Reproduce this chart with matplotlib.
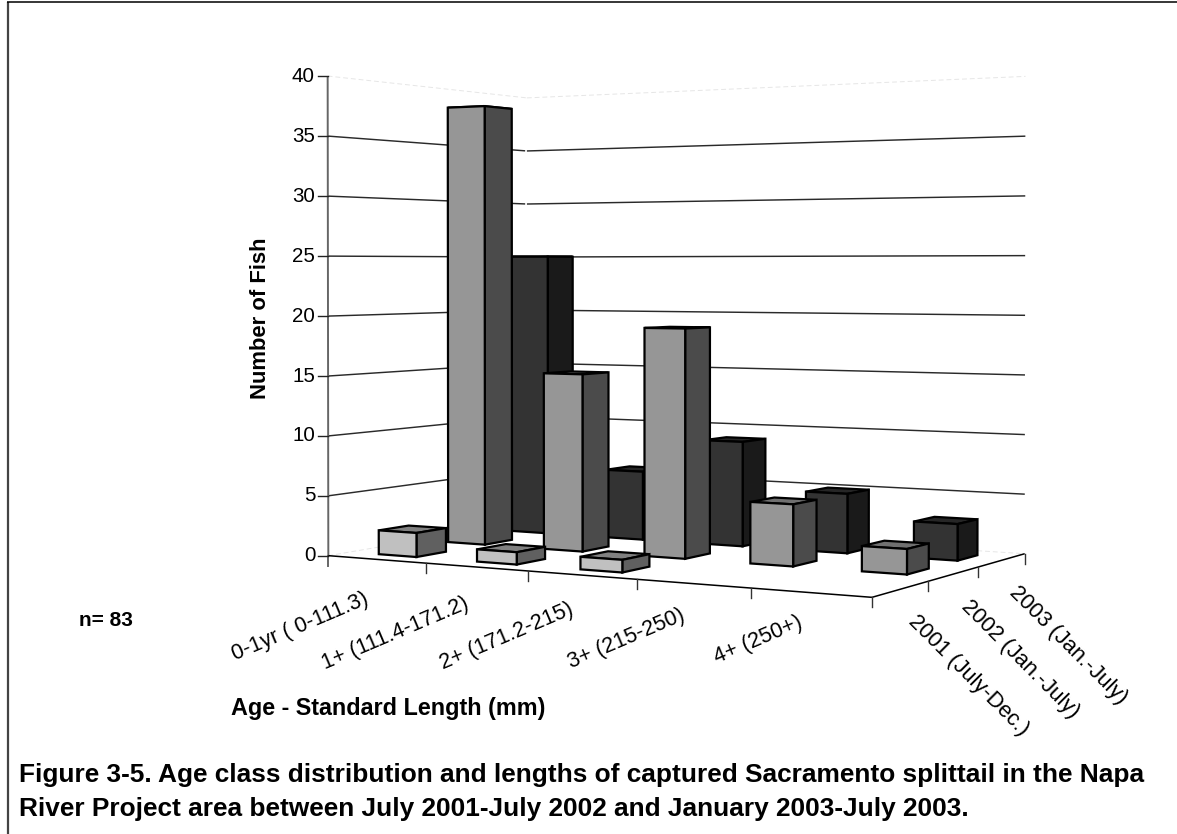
import numpy as np
import matplotlib
matplotlib.use("Agg")
import matplotlib.pyplot as plt
from matplotlib.patches import Polygon

plt.rcParams['font.family'] = ['Liberation Sans', 'DejaVu Sans']

# ---- data ----
categories = ["0-1yr ( 0-111.3)", "1+ (111.4-171.2)", "2+ (171.2-215)", "3+ (215-250)", "4+ (250+)"]
series_names = ["2001 (July-Dec.)", "2002 (Jan.-July)", "2003 (Jan.-July)"]
values_2001 = [2, 1, 1, 0, 0]
values_2002 = [38, 15, 19, 5, 2]
values_2003 = [25, 6, 9, 5, 3]
value_ticks = [0, 5, 10, 15, 20, 25, 30, 35, 40]

series_values = [values_2001, values_2002, values_2003]
front_cols = ["#C0C0C0", "#969696", "#333333"]
side_cols = ["#606060", "#4B4B4B", "#1A1A1A"]
top_cols = ["#808080", "#707070", "#262626"]

W, H = 1177, 834
fig = plt.figure(figsize=(W / 100, H / 100), dpi=100)
ax = fig.add_axes([0, 0, 1, 1])
ax.set_xlim(0, W)
ax.set_ylim(H, 0)
ax.axis("off")

# camera calibration of the chart box: (category, depth, value) -> figure pixel
calib = [
    (0, 0, 0, 328, 556), (1, 0, 0, 426, 564), (2, 0, 0, 528, 571), (3, 0, 0, 636, 579),
    (4, 0, 0, 752, 588), (5, 0, 0, 872, 596), (5, 1, 0, 927, 582), (5, 2, 0, 979, 567),
    (5, 3, 0, 1025, 554), (0, 3, 0, 527, 520), (0, 0, 40, 328, 76), (0, 3, 40, 527, 97),
    (5, 3, 40, 1025, 76), (0, 0, 20, 328, 316), (5, 3, 20, 1025, 316), (0, 3, 20, 527, 312),
]
A = []
for X, Y, Z, u, v in calib:
    p = [X, Y, Z, 1]
    A.append(p + [0, 0, 0, 0] + [-u * c for c in p])
    A.append([0, 0, 0, 0] + p + [-v * c for c in p])
P = np.linalg.svd(np.array(A, float))[2][-1].reshape(3, 4)


def proj(X, Y, Z):
    h = P @ np.array([X, Y, Z, 1.0])
    return h[0] / h[2], h[1] / h[2]


def seg(a, b, **kw):
    pa, pb = proj(*a), proj(*b)
    ax.plot([pa[0], pb[0]], [pa[1], pb[1]], solid_capstyle="butt", **kw)


n_cat, n_ser = len(categories), len(series_names)
GRID = dict(color="#2A2A2A", lw=1.05, zorder=1)
FAINT = dict(color="#E6E6E6", lw=0.7, ls=(0, (5, 3)), zorder=1)

# walls
for t in value_ticks:
    if t in (0, 40):
        seg((0, 0, t), (0, n_ser, t), **FAINT)
        seg((0, n_ser, t), (n_cat, n_ser, t), **FAINT)
    else:
        seg((0, 0, t), (0, n_ser - 0.03, t), **GRID)
        seg((0, n_ser, t), (n_cat, n_ser, t), **GRID)

# axes
seg((0, 0, 0), (0, 0, 40), color="#666666", lw=1.4, zorder=1.5)
pb = proj(0, 0, 0)
ax.plot([pb[0], pb[0]], [pb[1], pb[1] + 10], color="#666666", lw=1.4, zorder=1.5)
for t in value_ticks:
    x0, y0 = proj(0, 0, t)
    ax.plot([x0 - 10, x0], [y0, y0], color="#222222", lw=1.0, zorder=1.5)
    ax.text(x0 - 13, y0, str(t), ha="right", va="center", fontsize=14.8, color="black")
seg((0, 0, 0), (n_cat, 0, 0), color="black", lw=1.1, zorder=1.5)
seg((n_cat, 0, 0), (n_cat, n_ser, 0), color="black", lw=1.1, zorder=1.5)
for i in range(1, n_cat + 1):
    x0, y0 = proj(i, 0, 0)
    ax.plot([x0, x0], [y0, y0 + 10], color="#333333", lw=1.0, zorder=1.5)
for j in range(1, n_ser + 1):
    x0, y0 = proj(n_cat, j, 0)
    ax.plot([x0, x0], [y0, y0 + 10], color="#333333", lw=1.0, zorder=1.5)

# bars, painted back to front
HW, HD = 0.195, 0.21
z = 2.0
for j in reversed(range(n_ser)):
    for i in range(n_cat):
        v = series_values[j][i]
        if v <= 0:
            continue
        x0, x1 = i + 0.5 - HW, i + 0.5 + HW
        y0, y1 = j + 0.5 - HD, j + 0.5 + HD
        top = [proj(x0, y0, v), proj(x1, y0, v), proj(x1, y1, v), proj(x0, y1, v)]
        front = [proj(x0, y0, 0), proj(x1, y0, 0), proj(x1, y0, v), proj(x0, y0, v)]
        side = [proj(x1, y0, 0), proj(x1, y1, 0), proj(x1, y1, v), proj(x1, y0, v)]
        for poly, col in ((top, top_cols[j]), (side, side_cols[j]), (front, front_cols[j])):
            ax.add_patch(Polygon(poly, closed=True, facecolor=col, edgecolor="black",
                                 lw=1.6, joinstyle="miter", zorder=z))
            z += 0.001

# tick labels
for i, lab in enumerate(categories):
    x0, y0 = proj(i + 0.5, 0, 0)
    ax.text(x0 - 13, y0 + 29 - 2.5 * i, lab, rotation=23, rotation_mode="anchor", ha="right", va="top",
            fontsize=15.6, color="black")
for j, lab in enumerate(series_names):
    x0, y0 = proj(n_cat, j + 0.5, 0)
    ax.text(x0 + 18, y0 + 22, lab, rotation=-45, rotation_mode="anchor", ha="left", va="top",
            fontsize=15.8, color="black")

# axis titles and captions
ax.text(261, 318, "Number of Fish", rotation=90, ha="center", va="center",
        fontsize=15.8, fontweight="bold")
ax.text(231, 709, "Age - Standard Length (mm)", ha="left", va="center",
        fontsize=16.8, fontweight="bold")
ax.text(79, 620, "n= 83", ha="left", va="center", fontsize=15, fontweight="bold")
ax.text(19, 775, "Figure 3-5. Age class distribution and lengths of captured Sacramento splittail in the Napa",
        ha="left", va="center", fontsize=18.9, fontweight="bold")
ax.text(19, 809, "River Project area between July 2001-July 2002 and January 2003-July 2003.",
        ha="left", va="center", fontsize=18.9, fontweight="bold")

# frame
ax.plot([8, 8], [H, 2], color="#444444", lw=1.6, solid_capstyle="butt")
ax.plot([7, W], [2.3, 2.3], color="black", lw=1.1, solid_capstyle="butt")

fig.savefig("out.png", dpi=100)
